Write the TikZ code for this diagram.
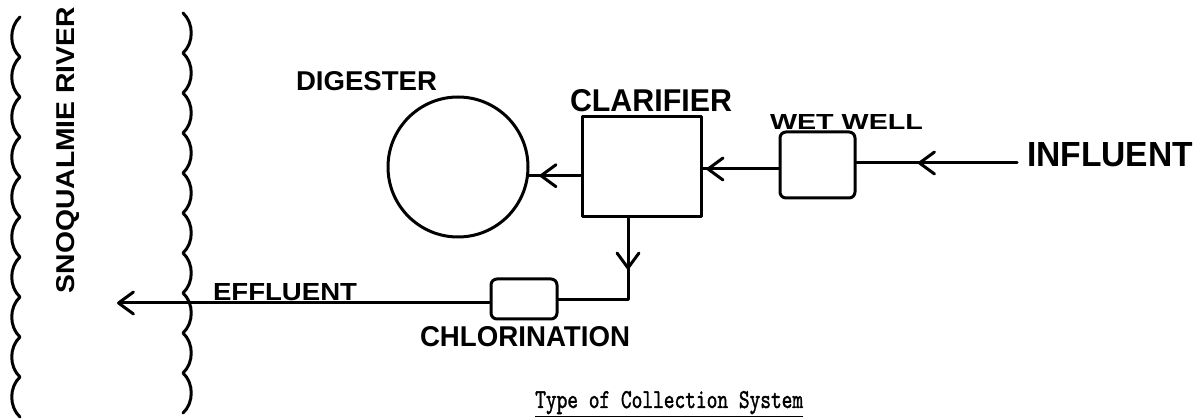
\documentclass[tikz,border=0pt]{standalone}
\usepackage{fontspec}
\setsansfont{Liberation Sans}
\newfontfamily\typed{lmmono10-regular.otf}[FakeBold=1.6]
\usetikzlibrary{arrows.meta,decorations.markings}

% hand lettering: text stretched to a given width and cap height
\newcommand{\lettering}[3]{\resizebox{#1pt}{#2pt}{\sffamily\bfseries #3}}

\tikzset{
  ink/.style={line width=3pt, line cap=round, line join=round},
  unitbox/.style={draw, ink, rectangle, inner sep=0pt},
  lbl/.style={inner sep=0pt, outer sep=0pt, anchor=south west},
  barb/.tip={Straight Barb[length=15pt, width=22pt, round]},
  midarrow/.style={postaction={decorate, decoration={markings,
      mark=at position #1 with {\arrow{barb}}}}},
}

\begin{document}
\begin{tikzpicture}[x=1pt, y=-1pt]
  \useasboundingbox[fill=white] (0,0) rectangle (1203,419);

  % river banks
  \draw[ink] (20,17) \foreach \k in {0,...,9} {
      .. controls (9,17+40*\k+10) and (9,17+40*\k+30) .. (20,17+40*\k+40) };
  \draw[ink] (183,13) \foreach \k in {0,...,9} {
      .. controls (194,13+40*\k+10) and (194,13+40*\k+30) .. (183,13+40*\k+40) };
  \node[inner sep=0pt, rotate=90] (river) at (68,150)
    {\lettering{286}{18}{SNOQUALMIE RIVER}};

  % treatment units
  \node[circle, draw, ink, minimum size=140pt, inner sep=0pt] (dig) at (458,167) {};
  \node[unitbox, minimum width=119pt, minimum height=100pt] (clar) at (641.5,167) {};
  \node[unitbox, rounded corners=6pt, minimum width=75pt, minimum height=66pt] (ww) at (817.5,165) {};
  \node[unitbox, rounded corners=6pt, minimum width=66pt, minimum height=40pt] (chl) at (524,299) {};

  % labels
  \node[lbl] (digl) at (296,91) {\lettering{141}{19}{DIGESTER}};
  \node[lbl] (clarl) at (570,112) {\lettering{162}{22}{CLARIFIER}};
  \node[lbl] (wwl) at (770,130) {\lettering{153}{15}{WET WELL}};
  \node[lbl] (inf) at (1027,167) {\lettering{166}{24}{INFLUENT}};
  \node[lbl] (effl) at (213,301) {\lettering{144}{17}{EFFLUENT}};
  \node[lbl] (chll) at (420,347) {\lettering{210}{20}{CHLORINATION}};

  % flow path
  \coordinate (infin) at (1017,163);
  \coordinate (wwin) at (855,163);
  \coordinate (wwout) at (780,169);
  \coordinate (drop) at (628,300);
  \coordinate (out) at (117,303);

  \draw[ink, midarrow=99pt] (infin) -- (ww.east |- wwin);
  \draw[ink, midarrow=72pt] (ww.west |- wwout) -- (clar.east |- wwout);
  \draw[ink, midarrow=41pt] (clar.west |- dig.-7.4) -- (dig.-7.4);
  \draw[ink, midarrow=51pt] (clar.south -| drop) -- (drop) -- (chl.east |- drop);
  \draw[ink, -{barb}] (chl.west |- out) -- (out);

  % caption
  \node[inner sep=0pt, anchor=base west] (cap) at (535,408)
    {\resizebox{268pt}{17pt}{\typed Type of Collection System}};
  \draw[line width=1.5pt] ([yshift=-8.5pt]cap.base west) -- ([yshift=-8.5pt]cap.base east);
\end{tikzpicture}
\end{document}
